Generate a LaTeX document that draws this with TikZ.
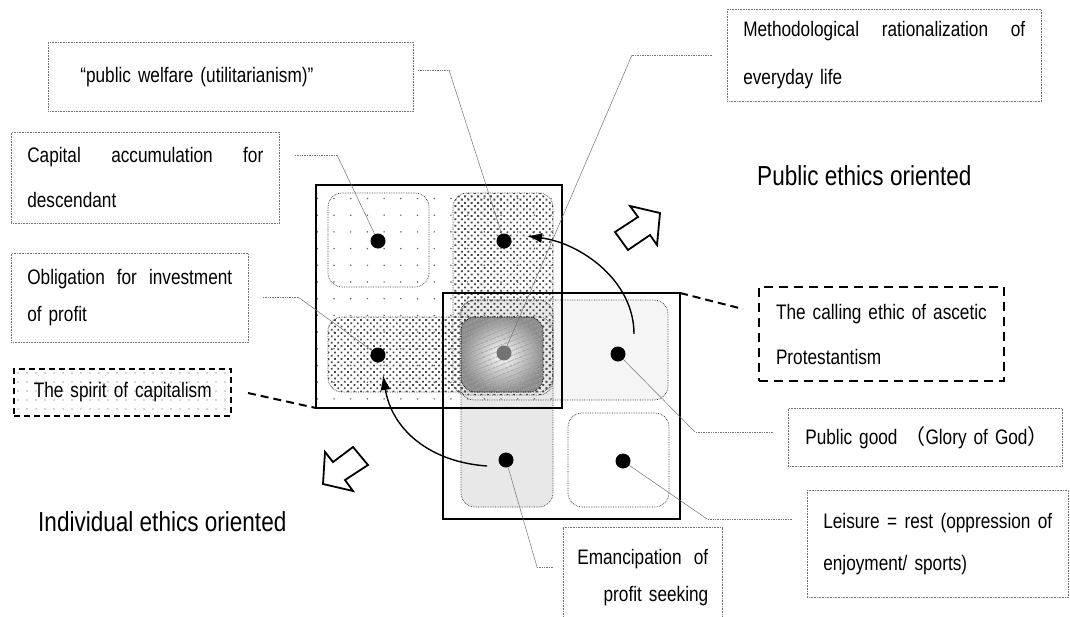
\documentclass[tikz,border=0pt]{standalone}
\usepackage{fontspec}
\setmainfont{Liberation Sans}[FakeStretch=0.82]
\newfontfamily\cjkfont{Noto Sans CJK JP}
\usetikzlibrary{patterns.meta,arrows.meta}
\newcommand\lblf[1]{\fontsize{21pt}{#1pt}\selectfont}
\newcommand\bigf{\fontsize{27.5pt}{32pt}\selectfont}
\newcommand\spread[2]{\hbox to #1pt{#2}}

\begin{document}
\begin{tikzpicture}[x=1pt,y=-1pt,
  sq/.style={draw=black, inner sep=0pt, outer sep=0pt, anchor=north west},
  cellline/.style={draw=black!80, densely dotted, line width=0.7pt, rounded corners=14pt},
  lbox/.style={draw=black!55, densely dotted, line width=0.6pt, inner ysep=0pt, anchor=north west, align=left},
  dbox/.style={draw=black, line width=2pt, dash pattern=on 9pt off 6pt, inner ysep=0pt, anchor=north west, align=left},
  lead/.style={draw=black!55, line width=0.5pt},
  leadh/.style={draw=black!55, densely dotted, line width=0.7pt},
  spot/.style={circle, fill=black, minimum size=15pt, inner sep=0pt},
  bigdash/.style={line width=2pt, dash pattern=on 8pt off 5pt},
  hollow/.style={draw=black, line width=1.8pt, fill=white, line join=miter},
  bend arrow/.style={line width=1.4pt, -{Latex[length=15pt,width=10pt]}},
  sparse/.style={pattern={Dots[distance=16.7pt, radius=0.85pt]}, pattern color=black!60},
  dense/.style={pattern={Dots[distance=4.6pt, radius=1.3pt, angle=45]}, pattern color=black!72},
]
\useasboundingbox (0,0) rectangle (1070,616);

% light cells of the lower-right square
\path[fill=black!4, rounded corners=14pt] (460,300) rectangle (668,400);
\path[fill=black!9, rounded corners=14pt] (461,300) rectangle (553,507);

% upper-left square with its sparse dot screen
\node[sq, line width=1.3pt, sparse, minimum width=246pt, minimum height=223pt] (A) at (316,185) {};

% dense column and row
\path[dense, rounded corners=14pt] (453,193) rectangle (553,395);
\path[dense, rounded corners=14pt] (328,317) rectangle (553,392);

% shaded centre cell
\path[inner color=white, outer color=black!45, rounded corners=14pt] (461,317) rectangle (543,392);
\path[pattern={Lines[angle=22, distance=4pt, line width=1pt]}, pattern color=black!40, rounded corners=14pt] (461,317) rectangle (543,392);

% dotted cell outlines
\draw[cellline] (328,193) rectangle (429,287);
\draw[cellline] (453,193) rectangle (553,395);
\draw[cellline] (328,317) rectangle (553,392);
\draw[cellline] (460,300) rectangle (668,400);
\draw[cellline] (461,300) rectangle (553,507);
\draw[cellline] (568,413) rectangle (669,507);
\draw[cellline, draw=black] (461,317) rectangle (543,392);

% lower-right square
\node[sq, line width=2pt, minimum width=237pt, minimum height=226pt] (B) at (443,293) {};

% label boxes
\node[lbox, inner xsep=32pt, text width=301pt, minimum height=69pt, font=\lblf{24}] (pw) at (48,42)
  {\mbox{“public welfare (utilitarianism)”}};
\node[lbox, inner xsep=16pt, text width=282pt, minimum height=92pt, font=\lblf{48}] (meth) at (727,9)
  {\spread{282}{Methodological\hfill rationalization\hfill of}\\\mbox{everyday life}};
\node[lbox, inner xsep=16pt, text width=236pt, minimum height=91pt, font=\lblf{45}] (cap) at (11,132)
  {\spread{236}{Capital\hfill accumulation\hfill for}\\descendant};
\node[lbox, inner xsep=16pt, text width=205pt, minimum height=89pt, font=\lblf{37}] (obl) at (11,253)
  {\spread{205}{Obligation\hfill for\hfill investment}\\\mbox{of profit}};
\node[dbox, line width=1.5pt, dash pattern=on 6pt off 4pt, pattern={Dots[distance=9pt, radius=0.7pt]}, pattern color=black!70,
      inner xsep=20pt, text width=177pt, minimum height=47pt, font=\lblf{24}] (spirit) at (13,368)
  {\mbox{The spirit of capitalism}};
\node[dbox, inner xsep=17pt, text width=211pt, minimum height=94pt, font=\lblf{45}] (call) at (758,286)
  {\mbox{The calling ethic of ascetic}\\Protestantism};
\node[lbox, inner xsep=17pt, text width=240pt, minimum height=58pt, font=\lblf{24}] (pg) at (788,408)
  {\mbox{Public good {\cjkfont （}Glory of God{\cjkfont ）}}};
\node[lbox, inner xsep=16pt, text width=229pt, minimum height=107pt, font=\lblf{42}] (leis) at (807,490)
  {\spread{229}{Leisure\hfill =\hfill rest\hfill (oppression\hfill of}\\\mbox{enjoyment/ sports)}};
\node[lbox, draw=none, inner xsep=14pt, text width=131pt, minimum height=100pt, font=\lblf{37}] (emc) at (563,527)
  {\spread{131}{Emancipation\hfill of}\\\hspace*{\fill}\mbox{profit seeking}\hspace*{5pt}};
\draw[lbox] (emc.south west) -- (emc.north west) -- (emc.north east) -- (emc.south east);

% orientation captions
\node[anchor=west, font=\bigf, inner sep=0pt] (pub) at (757,176) {Public ethics oriented};
\node[anchor=west, font=\bigf, inner sep=0pt] (ind) at (38,522) {Individual ethics oriented};

% spots
\node[spot] (s1) at (378,241) {};
\node[spot] (s2) at (504,241) {};
\node[spot] (s3) at (378,355) {};
\node[spot, fill=black!55] (s4) at (504,353) {};
\node[spot] (s5) at (618,354) {};
\node[spot] (s6) at (506,460) {};
\node[spot] (s7) at (623,461) {};

% leader lines
\coordinate (pwA) at (418,70);  \coordinate (pwB) at (449,70);
\coordinate (mtA) at (712,55);  \coordinate (mtB) at (632,55);
\coordinate (cpA) at (295,155); \coordinate (cpB) at (337,155);
\coordinate (obA) at (263,297); \coordinate (obB) at (298,297);
\coordinate (pgB) at (695,432); \coordinate (pgA) at (773,432);
\coordinate (lsB) at (707,519); \coordinate (lsA) at (792,519);
\coordinate (emB) at (537,567); \coordinate (emA) at (553,567);
\draw[leadh] (pwA) -- (pwB); \draw[lead] (pwB) -- (s2);
\draw[leadh] (mtA) -- (mtB); \draw[lead] (mtB) -- (s4);
\draw[leadh] (cpA) -- (cpB); \draw[lead] (cpB) -- (s1);
\draw[leadh] (obA) -- (obB); \draw[lead] (obB) -- (s3);
\draw[leadh] (pgA) -- (pgB); \draw[lead] (pgB) -- (s5);
\draw[leadh] (lsA) -- (lsB); \draw[lead] (lsB) -- (s7);
\draw[leadh] (emA) -- (emB); \draw[lead] (emB) -- (s6);

% dashed ties to the squares
\coordinate (spT) at (248,393);
\coordinate (clT) at (743,309);
\draw[bigdash] (spT) -- (A.south west);
\draw[bigdash] (B.north east) -- (clT);

% curved arrows
\coordinate (c1s) at (634,334); \coordinate (c1e) at (527,236);
\coordinate (c2s) at (487,466); \coordinate (c2e) at (383,375);
\draw[bend arrow] (c1s) .. controls (634,280) and (580,243) .. (c1e);
\draw[bend arrow] (c2s) .. controls (430,462) and (392,430) .. (c2e);

% hollow direction arrows
\draw[hollow] (615,232) -- (638,217) -- (630,206) -- (660,213) -- (657,245) -- (650,235) -- (628,250) -- cycle;
\draw[hollow] (368,465) -- (345,480) -- (353,491) -- (323,484) -- (325,452) -- (333,462) -- (353,447) -- cycle;
\end{tikzpicture}
\end{document}
